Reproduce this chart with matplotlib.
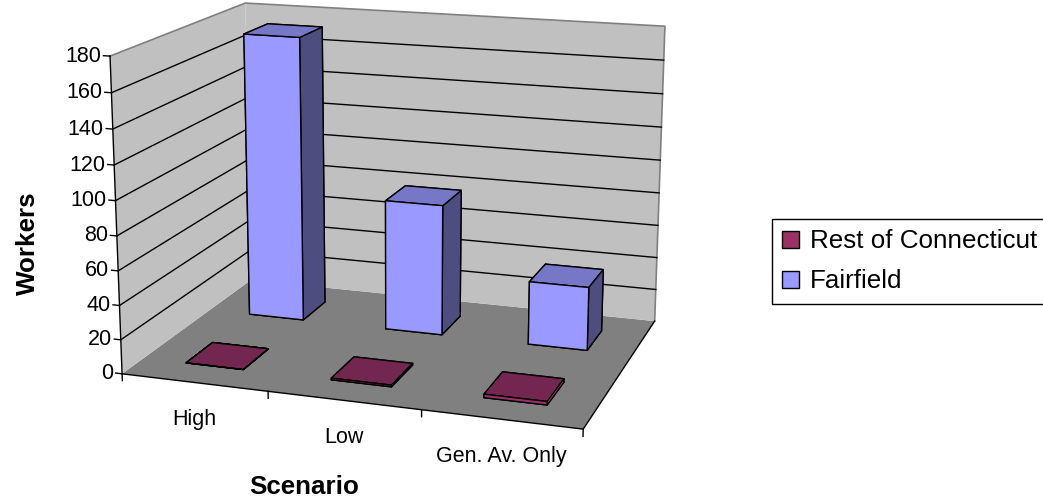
import numpy as np
import matplotlib
matplotlib.use("Agg")
import matplotlib.pyplot as plt
import matplotlib.transforms as mtransforms
from matplotlib.patches import Patch
from mpl_toolkits.mplot3d import proj3d
from mpl_toolkits.mplot3d.art3d import Poly3DCollection

# ---- data ----
categories = ["High", "Low", "Gen. Av. Only"]
series_names = ["Rest of Connecticut", "Fairfield"]
rest_of_ct = [0, 1, 2]
fairfield = [173, 79, 38]
value_ticks = list(range(0, 181, 20))
value_max = 180

# ---- style ----
plt.rcParams["font.family"] = ["Liberation Sans", "DejaVu Sans"]
WALL = "#C0C0C0"
FLOOR = "#808080"
series_faces = {
    # front, top, side
    "Rest of Connecticut": ("#993366", "#73264F", "#CC4488"),
    "Fairfield": ("#9999FF", "#7777C7", "#4D4D80"),
}
legend_colors = {"Rest of Connecticut": "#993366", "Fairfield": "#9999FF"}

fig = plt.figure(figsize=(10.43, 5.04), dpi=100)
ax = fig.add_axes([0.0142, -0.032, 0.72, 1.25], projection="3d", computed_zorder=False)
ax.set_proj_type("persp", focal_length=0.58)
ax.view_init(elev=14.8, azim=-71.5)
ax.set_axis_off()

ncat = len(categories)
nser = len(series_names)
ax.set_xlim(0, ncat)
ax.set_ylim(0, nser)
ax.set_zlim(0, value_max)
ax.set_box_aspect((1.5, 1.06, 1.025), zoom=1.0)

# walls and floor
floor = [[(0, 0, 0), (ncat, 0, 0), (ncat, nser, 0), (0, nser, 0)]]
back = [[(0, nser, 0), (ncat, nser, 0), (ncat, nser, value_max), (0, nser, value_max)]]
left = [[(0, 0, 0), (0, nser, 0), (0, nser, value_max), (0, 0, value_max)]]
ax.add_collection3d(Poly3DCollection(floor, facecolor=FLOOR, edgecolor="none", zorder=0))
ax.add_collection3d(Poly3DCollection(back, facecolor=WALL, edgecolor="none", zorder=0))
ax.add_collection3d(Poly3DCollection(left, facecolor=WALL, edgecolor="none", zorder=0))

# wall borders
ax.plot([0, 0, ncat, ncat], [0, nser, nser, nser], [value_max] * 3 + [0],
        color="#808080", lw=1.2, zorder=1)

# gridlines on both walls
for v in value_ticks[1:-1]:
    ax.plot([0, 0, ncat], [0, nser, nser], [v, v, v], color="black", lw=1.0, zorder=1)

# floor edges (category axis and right edge)
ax.plot([0, ncat, ncat], [0, 0, nser], [0, 0, 0], color="black", lw=1.0, zorder=1)

# value axis on the front-left edge
ax.plot([0, 0], [0, 0], [0, value_max], color="black", lw=1.0, zorder=5)
for v in value_ticks:
    ax.plot([-0.045, 0], [0, 0], [v, v], color="black", lw=1.0, zorder=5)

# category ticks
for i in range(ncat + 1):
    ax.plot([i, i], [0, 0], [0, -4], color="black", lw=1.0, zorder=5)

# bars: back row first, then front row
bar_w = 0.4
bar_d = 0.4
for s_idx in [1, 0]:
    name = series_names[s_idx]
    vals = fairfield if s_idx == 1 else rest_of_ct
    front, top, side = series_faces[name]
    xs = np.arange(ncat) + 0.5 - bar_w / 2
    ys = np.full(ncat, s_idx + 0.5 - bar_d / 2)
    zs = np.zeros(ncat)
    # face order used by bar3d: -z, +z, -y, +y, -x, +x
    face_cols = [front, top, front, front, front, side] * ncat
    ax.bar3d(xs, ys, zs, bar_w, bar_d, np.maximum(vals, 1e-3), color=face_cols,
             shade=False, edgecolor="black", linewidth=1.0, zorder=2 + (1 - s_idx))

# labels are placed in screen space at projected 3D anchor points
fig.canvas.draw()


def screen_text(x3, y3, z3, s, dx=0, dy=0, **kw):
    px, py, _ = proj3d.proj_transform(x3, y3, z3, ax.get_proj())
    tr = mtransforms.offset_copy(ax.transData, fig=fig, x=dx, y=dy, units="dots")
    return ax.text2D(px, py, s, transform=tr, **kw)


for v in value_ticks:
    screen_text(0, 0, v, str(v), dx=-9, ha="right", va="center", fontsize=15.5)
for i, c in enumerate(categories):
    screen_text(i + 0.5, 0, 0, c, dy=-37, ha="center", va="center", fontsize=15.5)

# axis titles
fig.text(0.027, 0.517, "Workers", rotation=90, ha="center", va="center",
         fontsize=18.7, fontweight="bold")
fig.text(0.292, 0.034, "Scenario", ha="center", va="center",
         fontsize=18.7, fontweight="bold")

# legend
handles = [Patch(facecolor=legend_colors[n], edgecolor="black", lw=1.0) for n in series_names]
fig.legend(handles, series_names, loc="upper left", bbox_to_anchor=(772 / 1043, 1 - 219 / 504),
           fontsize=18.7, frameon=True, fancybox=False, edgecolor="black", framealpha=1,
           borderaxespad=0, handlelength=0.65, handleheight=0.65, handletextpad=0.4,
           borderpad=0.4, labelspacing=0.62)

fig.savefig("out.png", dpi=100)
